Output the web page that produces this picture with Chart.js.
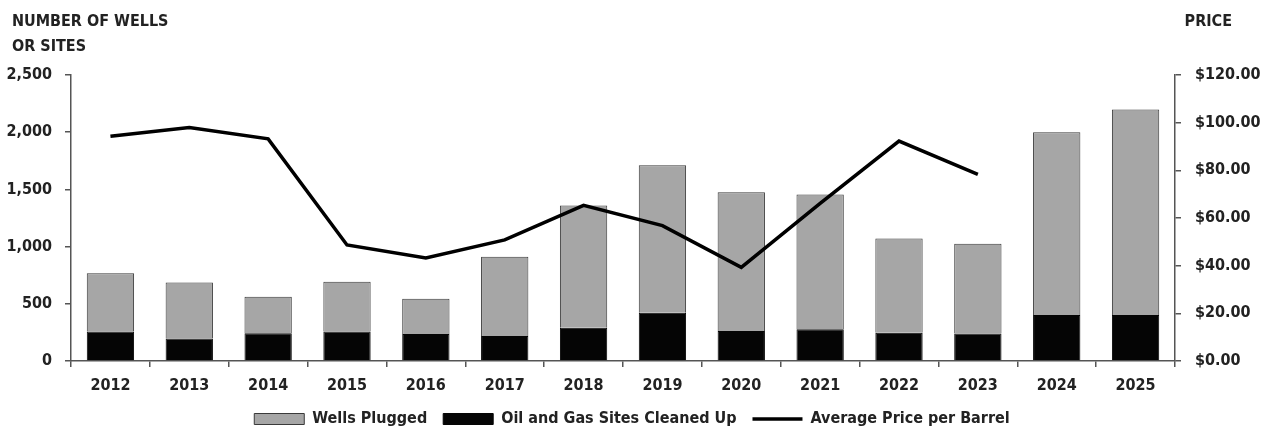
<!DOCTYPE html>
<html lang="en">
<head>
  <meta charset="UTF-8" />
  <title>Wells Plugged and Oil Price</title>
  <style>
    html, body { margin: 0; padding: 0; background: #fff; }
    #wrap { width: 1264px; height: 432px; }
  </style>
</head>
<body>
<div id="wrap">
  <canvas id="chart" width="1264" height="432"></canvas>
</div>
<script src="https://cdn.jsdelivr.net/npm/chart.js"></script>
<script type="text/javascript">
  // Data
  const years = ["2012", "2013", "2014", "2015", "2016", "2017", "2018", "2019", "2020", "2021", "2022", "2023", "2024", "2025"];
  const sitesCleaned = [257, 196, 243, 257, 237, 219, 290, 421, 263, 278, 246, 240, 403, 403];
  const wellsPlugged = [509, 491, 318, 436, 307, 693, 1070, 1290, 1211, 1178, 824, 786, 1597, 1796];
  const avgPrice = [94.3, 98.0, 93.2, 48.7, 43.2, 50.8, 65.3, 56.8, 39.3, 66.1, 92.3, 78.3, null, null];
  const leftTitle = ["NUMBER OF WELLS", "OR SITES"];
  const rightTitle = "PRICE";

  const FONT = "'DejaVu Sans Condensed', 'Roboto Condensed', Roboto, sans-serif";
  const TEXT = "#222222";
  const AXIS = "#555555";

  Chart.defaults.font.family = FONT;
  Chart.defaults.font.size = 16;
  Chart.defaults.font.weight = "bold";
  Chart.defaults.color = TEXT;

  // Axis titles sit above the chart area, at the corners
  const cornerTitles = {
    id: "cornerTitles",
    afterDraw(chart) {
      const ctx = chart.ctx;
      ctx.save();
      ctx.fillStyle = TEXT;
      ctx.font = "bold 16px " + FONT;
      ctx.textBaseline = "alphabetic";
      ctx.textAlign = "left";
      ctx.fillText(leftTitle[0], 12, 26);
      ctx.fillText(leftTitle[1], 12, 51);
      ctx.textAlign = "right";
      ctx.fillText(rightTitle, 1232, 26);
      ctx.restore();
    }
  };

  new Chart(document.getElementById("chart"), {
    type: "bar",
    data: {
      labels: years,
      datasets: [
        {
          label: "Oil and Gas Sites Cleaned Up",
          data: sitesCleaned,
          backgroundColor: "#050505",
          borderColor: "#050505",
          borderWidth: 1,
          yAxisID: "y",
          order: 1
        },
        {
          label: "Wells Plugged",
          data: wellsPlugged,
          backgroundColor: "#a6a6a6",
          borderColor: "#3a3a3a",
          borderWidth: 1,
          yAxisID: "y",
          order: 1
        },
        {
          type: "line",
          label: "Average Price per Barrel",
          data: avgPrice,
          borderColor: "#000000",
          backgroundColor: "#000000",
          borderWidth: 3.5,
          pointRadius: 0,
          tension: 0,
          yAxisID: "y1",
          order: 0
        }
      ]
    },
    options: {
      responsive: false,
      animation: false,
      layout: { padding: { top: 75, left: 0, right: 0, bottom: -5 } },
      datasets: {
        bar: { categoryPercentage: 1, barPercentage: 0.6 }
      },
      scales: {
        x: {
          stacked: true,
          offset: true,
          border: { display: true, color: AXIS, width: 1.5 },
          grid: { display: true, drawOnChartArea: false, offset: true, tickLength: 6, color: AXIS, lineWidth: 1.5 },
          ticks: { padding: 9, maxRotation: 0 },
          afterFit(scale) { scale.height = 34; }
        },
        y: {
          stacked: true,
          position: "left",
          min: 0,
          max: 2500,
          border: { display: true, color: AXIS, width: 1.5 },
          grid: { display: true, drawOnChartArea: false, tickLength: 6, color: AXIS, lineWidth: 1.5 },
          ticks: {
            stepSize: 500,
            padding: 13,
            callback: v => v.toLocaleString("en-US")
          },
          afterFit(scale) { scale.width = 71; }
        },
        y1: {
          position: "right",
          min: 0,
          max: 120,
          border: { display: true, color: AXIS, width: 1.5 },
          grid: { display: true, drawOnChartArea: false, tickLength: 6, color: AXIS, lineWidth: 1.5 },
          ticks: {
            stepSize: 20,
            padding: 14,
            callback: v => "$" + v.toFixed(2)
          },
          afterFit(scale) { scale.width = 89; }
        }
      },
      plugins: {
        legend: {
          position: "bottom",
          labels: {
            usePointStyle: true,
            pointStyleWidth: 50,
            boxWidth: 50,
            boxHeight: 11,
            padding: 16,
            color: TEXT,
            sort: (a, b) => [1, 0, 2].indexOf(a.datasetIndex) - [1, 0, 2].indexOf(b.datasetIndex),
            generateLabels(chart) {
              return chart.data.datasets.map((ds, i) => ({
                text: ds.label,
                datasetIndex: i,
                fillStyle: ds.backgroundColor,
                strokeStyle: ds.borderColor,
                lineWidth: ds.type === "line" ? 3.5 : 1,
                pointStyle: ds.type === "line" ? "line" : "rect",
                fontColor: TEXT,
                hidden: false
              }));
            }
          }
        },
        tooltip: { enabled: false }
      }
    },
    plugins: [cornerTitles]
  });
</script>
</body>
</html>
